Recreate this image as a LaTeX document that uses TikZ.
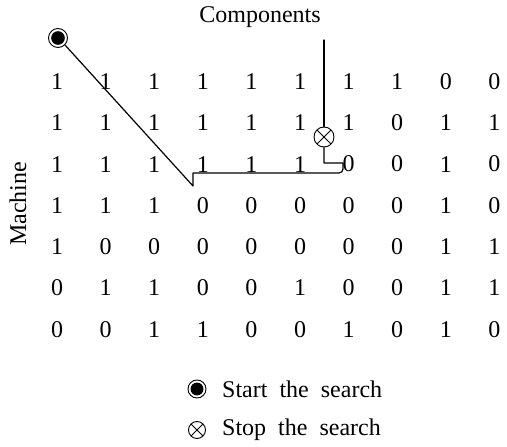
\documentclass[tikz,border=0pt]{standalone}
\usepackage{fontspec}
\setmainfont{Liberation Serif}

\tikzset{
    entry/.style={font=\fontsize{24}{28}\selectfont, inner sep=0pt},
    label text/.style={font=\fontsize{24}{28}\selectfont, inner sep=0pt},
    startmark/.style={circle, draw, line width=0.9pt, minimum size=#1, inner sep=0pt,
        path picture={\fill (path picture bounding box.center) circle (0.36*#1);}},
    stopmark/.style={circle, draw, line width=0.9pt, minimum size=#1, inner sep=0pt,
        path picture={\draw[line width=0.9pt] (path picture bounding box.north west) -- (path picture bounding box.south east)
                            (path picture bounding box.south west) -- (path picture bounding box.north east);}}
}

\begin{document}
\begin{tikzpicture}[x=1pt, y=-1pt, line join = round, line cap = round]
    \useasboundingbox (0,0) rectangle (507,447);

    % machine-component matrix
    \foreach \vals [count=\i] in {{1,1,1,1,1,1,1,1,0,0},
                                  {1,1,1,1,1,1,1,0,1,1},
                                  {1,1,1,1,1,1,0,0,1,0},
                                  {1,1,1,0,0,0,0,0,1,0},
                                  {1,0,0,0,0,0,0,0,1,1},
                                  {0,1,1,0,0,1,0,0,1,1},
                                  {0,0,1,1,0,0,1,0,1,0}}
        \foreach \v [count=\j] in \vals
            \node[entry] (m\i-\j) at ({57+48.6*(\j-1)},{81.5+41.3*(\i-1)}) {\v};

    \node[label text] (comp) at (260,17) {Components};
    \node[label text, rotate=90] (mach) at (18,204) {Machine};

    \node[startmark=19pt] (start) at (58,38) {};
    \node[stopmark=20pt] (stop) at (324,137) {};

    \coordinate (top) at (324,40);
    \coordinate (P1) at (324,163);
    \coordinate (P2) at (343,163);
    \coordinate (P3) at (343,173);
    \coordinate (P4) at (193,173);
    \coordinate (P5) at (193,186);

    \draw[line width=1.2pt] (top)--(stop.north);
    \draw[line width=1.2pt] (stop.south)--(P1)--(P2) [rounded corners=4pt]--(P3) [sharp corners]--(P4)--(P5)--(start.south east);

    % legend
    \node[startmark=18pt] (lstart) at (197,389) {};
    \node[label text, anchor=west] (tstart) at (222,389) {Start\ \ the\ \ search};
    \node[stopmark=17pt] (lstop) at (197,430) {};
    \node[label text, anchor=west] (tstop) at (222,430) {Stop\ \ the\ \ search};
\end{tikzpicture}
\end{document}
